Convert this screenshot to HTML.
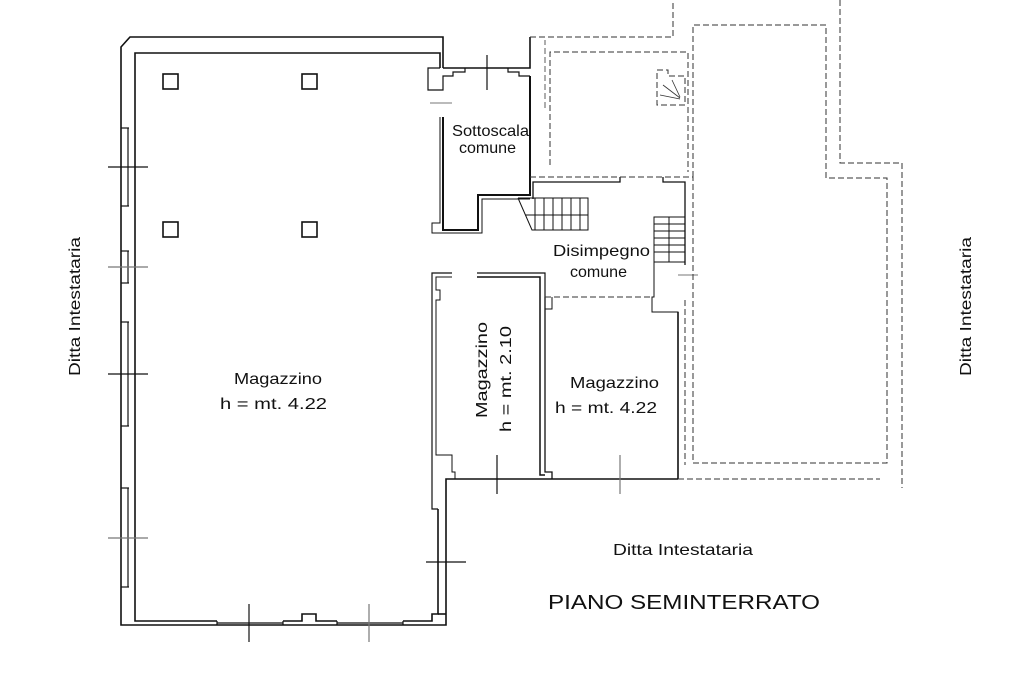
<!DOCTYPE html>
<html><head><meta charset="utf-8"><style>
html,body{margin:0;padding:0;background:#fff;}
svg{display:block;}
text{font-family:"Liberation Sans",Arial,sans-serif;fill:#111;}
</style></head><body>
<svg width="1024" height="682" viewBox="0 0 1024 682" xmlns="http://www.w3.org/2000/svg">
<g fill="none" stroke="#111" stroke-width="1.6">
<polyline points="443,68 443,37 130,37 121,47 121,625 446,625 446,479 678,479"/>
<polyline points="440,68 440,53 135,53 135,621 217,621"/>
<polyline points="283,621 302,621 302,614 316,614 316,621 337,621"/>
<polyline points="403,621 432,621 432,614 438,614 438,509"/>
<line x1="438" y1="614" x2="446" y2="614"/>
<polyline points="443,68 530,68 530,37"/>
<polyline points="440,68 428,68 428,90 443,90 443,76 453,76 453,72 465,72 465,68" stroke-width="1.2"/>
<polyline points="508,68 508,72 519,72 519,76 530,76" stroke-width="1.2"/>
<line x1="430" y1="103" x2="452" y2="103" stroke="#777" stroke-width="1"/>
<polyline points="443,117 443,230 478,230 478,195 530,195 530,76" stroke-width="2"/>
<polyline points="440,117 440,223 432,223 432,233 482,233 482,199 530,199" stroke-width="1"/>
<g stroke-width="1">
<polyline points="518,198 588,198 588,230 532,230 518,198"/>
<line x1="525" y1="215" x2="588" y2="215"/>
<line x1="535" y1="198" x2="535" y2="230"/><line x1="544" y1="198" x2="544" y2="230"/>
<line x1="553" y1="198" x2="553" y2="230"/><line x1="562" y1="198" x2="562" y2="230"/>
<line x1="571" y1="198" x2="571" y2="230"/><line x1="580" y1="198" x2="580" y2="230"/>
</g>
<polyline points="533,199 533,182 620,182 620,177" stroke-width="1.3"/>
<polyline points="663,177 663,182 685,182 685,265" stroke-width="1.3"/>
<g stroke-width="1">
<rect x="654" y="217" width="31" height="45"/>
<line x1="654" y1="224" x2="685" y2="224"/><line x1="654" y1="231" x2="685" y2="231"/>
<line x1="654" y1="238" x2="685" y2="238"/><line x1="654" y1="245" x2="685" y2="245"/>
<line x1="654" y1="252" x2="685" y2="252"/><line x1="669" y1="217" x2="669" y2="262"/>
<polyline points="654,262 654,297 652,297 652,312 678,312 678,479"/>
<line x1="678" y1="275" x2="698" y2="275" stroke="#777"/>
</g>
<polyline points="452,273 432,273 432,509 438,509" stroke-width="1.2"/>
<polyline points="452,277 436,277 436,290 440,290 440,300 436,300 436,455 452,455 452,472 455,472 455,479" stroke-width="1"/>
<polyline points="477,273 545,273 545,297" stroke-width="1.2"/>
<polyline points="477,277 540,277 540,475 545,475" stroke-width="1.5"/>
<polyline points="545,297 545,472 552,472 552,479" stroke-width="1.3"/>
<polyline points="545,309 552,309 552,297" stroke-width="1"/>
<polyline points="678,312 678,479" stroke-width="1.6"/>
<g stroke-width="1.2">
<line x1="121" y1="128" x2="129" y2="128"/><line x1="121" y1="206" x2="129" y2="206"/><line x1="128" y1="128" x2="128" y2="206"/>
<line x1="121" y1="251" x2="129" y2="251"/><line x1="121" y1="283" x2="129" y2="283"/><line x1="128" y1="251" x2="128" y2="283"/>
<line x1="121" y1="322" x2="129" y2="322"/><line x1="121" y1="426" x2="129" y2="426"/><line x1="128" y1="322" x2="128" y2="426"/>
<line x1="121" y1="488" x2="129" y2="488"/><line x1="121" y1="587" x2="129" y2="587"/><line x1="128" y1="488" x2="128" y2="587"/>
<line x1="108" y1="167" x2="148" y2="167"/>
<line x1="108" y1="267" x2="148" y2="267" stroke="#777"/>
<line x1="108" y1="374" x2="148" y2="374"/>
<line x1="108" y1="538" x2="148" y2="538" stroke="#777"/>
<line x1="217" y1="621" x2="217" y2="625"/><line x1="283" y1="621" x2="283" y2="625"/><line x1="217" y1="623" x2="283" y2="623"/>
<line x1="337" y1="621" x2="337" y2="625"/><line x1="403" y1="621" x2="403" y2="625"/><line x1="337" y1="623" x2="403" y2="623"/>
<line x1="249" y1="604" x2="249" y2="642"/>
<line x1="369" y1="604" x2="369" y2="642" stroke="#777"/>
<line x1="426" y1="562" x2="466" y2="562"/>
<line x1="487" y1="55" x2="487" y2="90"/>
<line x1="497" y1="455" x2="497" y2="494"/>
<line x1="620" y1="455" x2="620" y2="494" stroke="#777"/>
</g>
<rect x="163" y="74" width="15" height="15"/><rect x="302" y="74" width="15" height="15"/>
<rect x="163" y="222" width="15" height="15"/><rect x="302" y="222" width="15" height="15"/>
</g>
<g fill="none" stroke="#333" stroke-width="1" stroke-dasharray="6,3">
<polyline points="530,37 673,37 673,0"/>
<polyline points="550,165 550,52 688,52 688,172"/>
<line x1="530" y1="177" x2="693" y2="177"/>
<polyline points="693,177 693,25 826,25 826,178 887,178 887,463 693,463 693,177"/>
<polyline points="840,0 840,163 902,163 902,488"/>
<line x1="678" y1="479" x2="880" y2="479"/>
<line x1="545" y1="297" x2="652" y2="297"/>
<polyline points="685,300 685,465" />
<polyline points="657,70 668,70 668,76 685,76 685,105 657,105 657,70"/>
<polyline points="545,108 545,40" stroke-width="0.8"/>
</g>
<g stroke="#333" stroke-width="0.8" fill="none">
<line x1="663" y1="85" x2="680" y2="98"/><line x1="660" y1="95" x2="680" y2="99"/>
<line x1="672" y1="80" x2="680" y2="97"/>
</g>
<g font-size="16">
<text x="452" y="136" textLength="77" lengthAdjust="spacingAndGlyphs">Sottoscala</text>
<text x="459" y="153" textLength="57" lengthAdjust="spacingAndGlyphs">comune</text>
<text x="553" y="256" textLength="97" lengthAdjust="spacingAndGlyphs">Disimpegno</text>
<text x="570" y="277" textLength="57" lengthAdjust="spacingAndGlyphs">comune</text>
<text x="234" y="384" textLength="88" lengthAdjust="spacingAndGlyphs">Magazzino</text>
<text x="220" y="409" textLength="107" lengthAdjust="spacingAndGlyphs">h = mt. 4.22</text>
<text x="570" y="388" textLength="89" lengthAdjust="spacingAndGlyphs">Magazzino</text>
<text x="555" y="413" textLength="102" lengthAdjust="spacingAndGlyphs">h = mt. 4.22</text>
<text transform="translate(487,418) rotate(-90)" textLength="96" lengthAdjust="spacingAndGlyphs">Magazzino</text>
<text transform="translate(511,432) rotate(-90)" textLength="106" lengthAdjust="spacingAndGlyphs">h = mt. 2.10</text>
<text transform="translate(80,376) rotate(-90)" textLength="139" lengthAdjust="spacingAndGlyphs">Ditta Intestataria</text>
<text transform="translate(971,376) rotate(-90)" textLength="139" lengthAdjust="spacingAndGlyphs">Ditta Intestataria</text>
<text x="613" y="555" textLength="140" lengthAdjust="spacingAndGlyphs">Ditta Intestataria</text>
</g>
<text x="548" y="609" font-size="20" textLength="272" lengthAdjust="spacingAndGlyphs">PIANO SEMINTERRATO</text>
</svg>
</body></html>
